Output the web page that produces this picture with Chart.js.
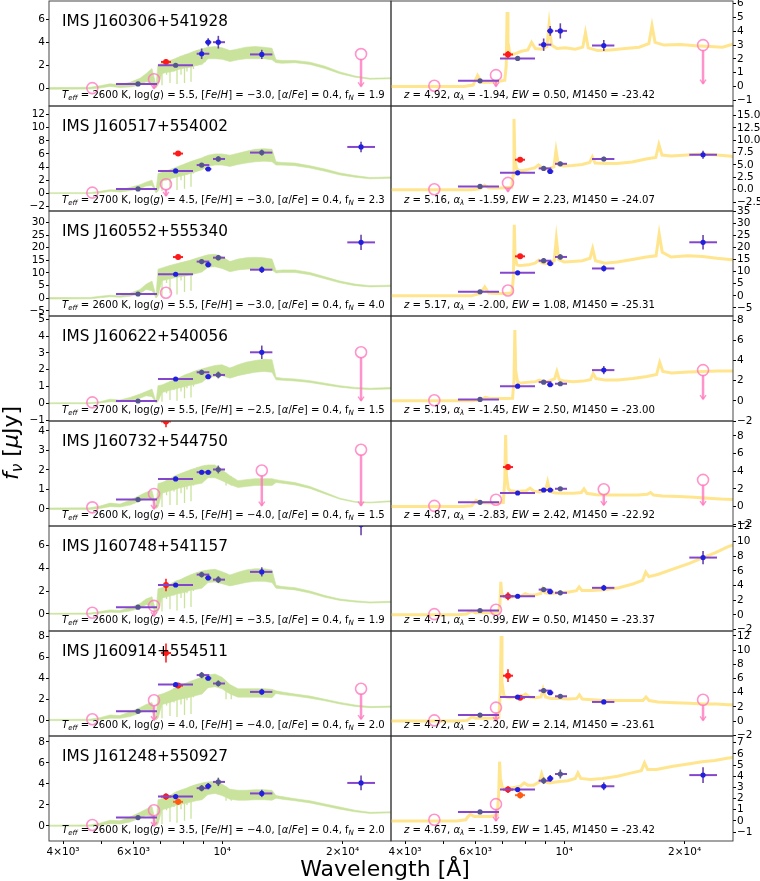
<!DOCTYPE html>
<html>
<head>
<meta charset="utf-8">
<script src="https://cdn.jsdelivr.net/npm/chart.js@4.4.1/dist/chart.umd.min.js"></script>
<style>
  body { margin: 0; background: #fff; }
  #fig { position: relative; width: 760px; height: 881px; overflow: hidden; background: #fff; }
  #fig canvas { position: absolute; }
  .txt { position: absolute; font-family: "DejaVu Sans"; color: #000; white-space: nowrap; line-height: 1; }
  .txt sub { font-size: 70%; vertical-align: -0.25em; line-height: 0; }
</style>
</head>
<body>
<div id="fig"></div>
<script>
// ---- shared x grids ----
const XMIN = 3690, XMAX = 26426;
// brown dwarf model grid (observed Angstrom)
const bdLam = [3690,4672,4949,5242,5553,5882,6230,6450,6676,6832,6911,7072,7236,7405,7621,7844,8073,8309,8601,8903,
  9215,9595,9989,10460,10953,11468,12079,12721,13322,13631,14110,15207,16577,18073,19704,21480,23419,26426];
// narrow absorption features of the model
const spikeLam = [7072,7260,7405,7578,7710,7890,8050,8165,8357,8476,8650,9058,10225,10535];
// quasar template grid (rest frame Angstrom)
const qsoRest = [600,950,1000,1026,1050,1100,1150,1200,1210,1216,1222,1235,1250,1280,1320,1370,1400,1430,1480,1530,
  1549,1570,1620,1700,1800,1880,1909,1940,2050,2200,2400,2600,2750,2800,2850,3000,3300,3600,3900,4200,4500,4700];

// filters: [centre, low edge, high edge]
const fG = 4735, fM675 = 6753;
const fR = [6160, 5426, 6871];
const fM725 = [7236, 7031, 7448];
const fM775 = [7760, 7534, 7980];
const fI = [7650, 6911, 8453];
const fZ = [8885, 8634, 9286];
const fM925 = [9226, 9060, 9396];
const fY = [9780, 9485, 10163];
const fJ = [12560, 11736, 13349];
const fK = [22240, 20549, 24100];

// ---- labels ----
const names = ['IMS J160306+541928','IMS J160517+554002','IMS J160552+555340','IMS J160622+540056',
  'IMS J160732+544750','IMS J160748+541157','IMS J160914+554511','IMS J161248+550927'];
const teff = ['2600','2700','2600','2700','2600','2600','2600','2600'];
const logg = ['5.5','4.5','5.5','5.5','4.5','4.5','4.0','3.5'];
const feh = ['−3.0','−3.0','−3.0','−2.5','−4.0','−3.5','−4.0','−4.0'];
const afe = ['0.4','0.4','0.4','0.4','0.4','0.4','0.4','0.4'];
const fN = ['1.9','2.3','4.0','1.5','1.5','1.9','2.0','2.0'];
const zs = [4.92, 5.16, 5.17, 5.19, 4.87, 4.71, 4.72, 4.67];
const alph = ['-1.94','-1.59','-2.00','-1.45','-2.83','-0.99','-2.20','-1.59'];
const ews = ['0.50','2.23','1.08','2.50','2.42','0.50','2.14','1.45'];
const m1450 = ['-23.42','-24.07','-25.31','-23.00','-22.92','-23.37','-23.61','-23.42'];

// ---- axis limits ----
const yLeft = [[-1.5,7.6],[-2.7,13.3],[-7,34.5],[-1.05,5.2],[-0.87,4.5],[-1.5,7.7],[-1.5,8.5],[-1.43,8.57]];
const stepLeft = [2,2,5,1,1,2,2,2];
const yRight = [[-1.42,6.2],[-4.3,16.9],[-8.3,35],[-2.0,8.4],[-2.2,9.7],[-2.2,12.1],[-2.1,12.7],[-1.8,7.6]];
const stepRight = [1,2.5,5,2,2,2,2,1];

// ---- brown dwarf model envelopes ----
const bdTop1 = [0.1,0.12,0.25,0.42,0.35,0.55,0.9,1.3,1.75,0.3,2.1,2.2,2.35,2.45,2.6,2.8,2.95,3.1,3.3,3.45,3.6,3.65,3.55,3.3,3.45,3.6,3.65,3.6,3.5,2.5,2.45,2.45,2.3,1.95,1.45,1.1,0.9,0.95];
const bdBot1 = [-0.05,-0.03,0.05,0.2,0.1,0.15,0.3,0.6,0.5,0.05,0.3,1.3,1.4,1.45,1.55,1.7,1.8,1.85,2.0,2.1,2.6,2.6,2.55,2.35,2.5,2.6,2.6,2.6,2.5,2.25,2.2,2.25,2.1,1.75,1.3,1.0,0.82,0.86];
const bdTop2 = [0.08,0.1,0.3,0.55,0.5,0.9,1.3,1.7,2.0,0.3,3.0,3.2,3.4,3.6,3.9,4.2,4.5,4.8,5.1,5.4,5.8,6.0,6.0,5.8,6.1,6.4,6.7,6.8,6.7,4.8,4.7,4.6,4.2,3.7,3.1,2.7,2.4,2.5];
const bdBot2 = [-0.05,-0.05,0.05,0.3,0.2,0.4,0.7,1.1,1.2,0.05,0.3,1.9,2.0,2.2,2.4,2.6,2.8,3.0,3.3,3.6,4.1,4.3,4.3,4.1,4.4,4.6,4.8,4.9,4.8,4.3,4.3,4.2,3.85,3.35,2.8,2.45,2.2,2.3];
const bdTop3 = [0.3,0.3,0.8,1.2,1.0,2.0,3.5,5.5,6.8,1.0,11.5,12,12.5,13,13.5,14,14.5,15,15.8,16.5,17.2,17.4,16.5,14.5,15.5,16,16.2,16.0,15.5,11,11.2,11.2,10.2,8.5,6.8,5.6,5.0,5.2];
const bdBot3 = [-0.3,-0.2,0.2,0.6,0.4,0.8,1.8,3.5,3.0,0.1,1.0,7.0,7.3,7.7,8.1,8.5,8.8,9.2,9.8,10.4,12.3,12.5,11.8,10.5,11.2,11.5,11.7,11.5,11.2,10.0,10.2,10.2,9.3,7.7,6.1,5.0,4.5,4.7];
const bdTop4 = [0.03,0.04,0.1,0.25,0.2,0.35,0.55,0.7,0.85,0.1,1.05,1.1,1.2,1.3,1.45,1.55,1.7,1.8,1.95,2.05,2.15,2.25,2.3,2.1,2.3,2.45,2.55,2.62,2.6,1.55,1.5,1.45,1.35,1.2,1.05,0.95,0.9,0.95];
const bdBot4 = [-0.02,-0.02,0.02,0.1,0.08,0.15,0.3,0.45,0.4,0.02,0.1,0.65,0.7,0.78,0.85,0.93,1.0,1.08,1.15,1.25,1.55,1.6,1.65,1.5,1.65,1.75,1.85,1.9,1.85,1.4,1.38,1.33,1.24,1.1,0.96,0.87,0.82,0.86];
const bdTop5 = [0.05,0.06,0.15,0.3,0.25,0.45,0.7,0.85,0.95,0.1,1.3,1.35,1.45,1.55,1.7,1.8,1.9,2.0,2.1,2.2,2.25,2.25,2.0,1.7,1.45,1.5,1.55,1.55,1.55,1.5,1.45,1.35,1.15,0.85,0.55,0.38,0.35,0.42];
const bdBot5 = [-0.02,-0.02,0.03,0.12,0.1,0.2,0.4,0.55,0.5,0.02,0.1,0.8,0.87,0.93,1.0,1.08,1.14,1.2,1.26,1.32,1.6,1.6,1.45,1.25,1.1,1.15,1.2,1.2,1.2,1.35,1.32,1.23,1.05,0.77,0.5,0.34,0.31,0.37];
const bdTop6 = [0.05,0.07,0.2,0.35,0.3,0.55,0.9,1.3,1.5,0.2,2.2,2.3,2.45,2.6,2.85,3.0,3.2,3.4,3.6,3.75,3.85,3.9,3.7,3.4,3.65,3.85,3.95,3.95,3.85,2.5,2.4,2.3,2.0,1.6,1.3,1.15,1.05,1.1];
const bdBot6 = [-0.03,-0.03,0.05,0.15,0.12,0.25,0.5,0.8,0.7,0.03,0.2,1.4,1.47,1.56,1.7,1.8,1.9,2.05,2.15,2.25,2.75,2.8,2.65,2.45,2.6,2.75,2.85,2.85,2.75,2.25,2.2,2.1,1.82,1.45,1.18,1.04,0.95,1.0];
const bdTop7 = [0.08,0.1,0.25,0.5,0.45,0.8,1.2,1.5,1.7,0.2,2.4,2.5,2.65,2.8,3.1,3.3,3.5,3.7,3.9,4.1,4.3,4.4,4.1,3.4,3.0,3.0,3.0,3.0,2.95,2.8,2.7,2.5,2.3,2.0,1.7,1.45,1.3,1.35];
const bdBot7 = [-0.03,-0.03,0.05,0.2,0.18,0.35,0.7,0.95,0.85,0.03,0.2,1.5,1.6,1.7,1.85,2.0,2.1,2.2,2.35,2.5,3.1,3.2,3.0,2.5,2.2,2.2,2.2,2.2,2.15,2.55,2.45,2.3,2.1,1.85,1.55,1.32,1.2,1.25];
const bdTop8 = [0.08,0.1,0.27,0.55,0.5,0.85,1.3,1.6,1.85,0.2,2.5,2.6,2.75,2.9,3.2,3.4,3.55,3.75,3.95,4.1,4.2,4.25,4.0,3.5,3.4,3.4,3.45,3.45,3.4,2.9,2.8,2.6,2.4,2.1,1.8,1.5,1.3,1.35];
const bdBot8 = [-0.03,-0.03,0.05,0.22,0.2,0.38,0.75,1.0,0.9,0.03,0.2,1.55,1.65,1.75,1.95,2.05,2.15,2.25,2.4,2.5,3.0,3.1,2.9,2.55,2.45,2.45,2.5,2.5,2.45,2.65,2.55,2.4,2.2,1.9,1.6,1.35,1.2,1.25];

// depth reached by each narrow absorption feature (on spikeLam)
const spk1 = [0.3,1.2,0.5,1.5,0.4,1.2,0.5,1.5,0.6,1.7,2.0,2.3,2.5,2.6];
const spk2 = [0.3,2.0,0.8,2.6,0.5,2.0,0.7,2.8,1.0,3.0,3.6,4.0,4.5,4.6];
const spk3 = [1,6,2,8,1.5,7,2.5,9,3,10,12,13,13,13];
const spk4 = [0.1,0.6,0.2,0.8,0.15,0.7,0.3,0.9,0.35,1.0,1.2,1.4,1.6,1.6];
const spk5 = [0.1,0.7,0.2,0.9,0.2,0.8,0.3,1.0,0.4,1.2,1.4,1.5,1.2,1.2];
const spk6 = [0.2,1.3,0.4,1.6,0.3,1.4,0.5,1.8,0.6,2.0,2.4,2.7,2.8,2.8];
const spk7 = [0.2,1.4,0.4,1.7,0.3,1.5,0.5,1.9,0.6,2.2,2.6,2.9,2.0,2.0];
const spk8 = [0.2,1.5,0.4,1.8,0.3,1.6,0.5,2.0,0.7,2.4,2.8,3.1,2.4,2.4];

// ---- quasar model fluxes on qsoRest ----
const qso1 = [0,0,0.1,0.8,0.3,0.3,0.35,0.45,1.5,5.4,3.2,2.4,2.3,2.4,2.55,2.65,3.2,2.75,2.7,2.9,4.5,3.0,2.75,2.8,2.7,2.85,3.9,2.8,2.6,2.65,2.75,2.85,3.1,4.4,3.2,3.0,3.05,2.95,2.9,2.85,3.1,3.5];
const qso2 = [0,0,0.2,0.9,0.4,0.35,0.4,0.5,3,14.3,6,4.2,3.9,3.9,4.1,4.4,5.0,4.4,4.2,4.6,7.9,5.0,4.8,4.9,5.1,5.5,6.6,5.4,5.3,5.3,5.6,6.2,6.5,9.1,7.0,6.8,7.0,7.2,7.0,6.8,6.5,6.2];
const qso3 = [0,0,1,3.7,1.2,1,1,1.2,8,29.3,16,12.8,12.5,12.6,12.8,13.5,14.7,13.5,13.3,14.5,23.6,15,14,14.2,14.5,15.5,19.5,14.5,13.5,14,15,16,16.5,25.6,18,16,16.5,16.2,15.5,15,14.5,14];
const qso4 = [0,0,0.1,0.35,0.25,0.22,0.22,0.25,2,7.0,3,1.9,1.75,1.8,1.85,1.9,2.05,1.9,1.95,2.2,2.9,2.1,1.95,1.9,1.95,2.1,2.7,2.2,2.05,2.05,2.2,2.4,2.6,3.8,2.9,2.75,2.85,2.9,2.95,2.95,3.0,3.0];
const qso5 = [0,0,0.1,0.7,0.45,0.42,0.42,0.45,3,8.1,3.5,2.0,1.8,1.75,1.75,1.8,2.1,1.75,1.65,1.8,2.8,1.7,1.55,1.5,1.5,1.6,2.0,1.5,1.35,1.3,1.3,1.3,1.4,1.6,1.3,1.2,1.15,1.05,0.95,0.85,0.8,0.75];
const qso6 = [0,0,0.1,0.5,0.3,0.3,0.3,0.4,1.5,4.5,3.0,2.5,2.4,2.4,2.5,2.6,2.9,2.7,2.7,2.9,3.6,3.0,2.9,3.0,3.1,3.3,3.8,3.3,3.3,3.4,3.7,4.2,4.7,5.8,5.2,5.5,6.3,7.0,7.8,8.5,9.3,9.6];
const qso7 = [0,0,0.1,0.6,0.4,0.4,0.4,0.5,4,12.0,5.5,3.6,3.4,3.3,3.4,3.5,3.8,3.4,3.3,3.4,4.5,3.4,3.2,3.2,3.1,3.2,3.7,3.1,3.0,2.9,2.9,2.9,2.9,3.4,2.9,2.7,2.6,2.5,2.4,2.4,2.3,2.3];
const qso8 = [0,0,0.1,0.6,0.4,0.4,0.4,0.5,2.5,5.3,3.8,3.0,2.9,2.9,3.0,3.1,3.4,3.2,3.2,3.5,4.2,3.5,3.4,3.5,3.6,3.8,4.3,3.8,3.7,3.8,4.0,4.3,4.5,5.2,4.6,4.6,4.9,5.1,5.3,5.4,5.6,5.7];

// ---- photometry: [filter, flux, error, kind] ----
const phot1 = [[fR,0.41,0.08,'g'],[fM725,2.32,0.25,'r'],[fI,2.03,0.1,'g'],[fZ,3.03,0.45,'b'],[fM925,4.03,0.35,'b'],[fY,4.03,0.55,'b'],[fJ,2.97,0.4,'b']];
const phot2 = [[fR,0.66,0.08,'g'],[fM775,6.05,0.35,'r'],[fI,3.4,0.15,'b'],[fZ,4.3,0.3,'g'],[fM925,3.7,0.2,'b'],[fY,5.23,0.4,'g'],[fJ,6.2,0.45,'g'],[fK,7.06,0.8,'b']];
const phot3 = [[fR,1.7,0.3,'g'],[fM775,16.3,1.0,'r'],[fI,9.5,0.5,'b'],[fZ,14.5,1.0,'g'],[fM925,13.3,1.0,'b'],[fY,16.05,1.1,'g'],[fJ,11.3,1.3,'b'],[fK,22.1,3.0,'b']];
const phot4 = [[fR,0.14,0.03,'g'],[fI,1.45,0.05,'b'],[fZ,1.85,0.15,'g'],[fM925,1.59,0.12,'b'],[fY,1.69,0.2,'g'],[fJ,3.04,0.4,'b']];
const phot5 = [[fR,0.48,0.05,'g'],[fM725,4.48,0.3,'r'],[fI,1.54,0.07,'b'],[fZ,1.88,0.12,'b'],[fM925,1.88,0.12,'b'],[fY,2.02,0.2,'g']];
const phot6 = [[fR,0.59,0.05,'g'],[fM725,2.53,0.55,'r'],[fI,2.53,0.1,'b'],[fZ,3.44,0.25,'g'],[fM925,3.15,0.2,'b'],[fY,3.0,0.3,'g'],[fJ,3.68,0.4,'b'],[fK,7.8,0.9,'b']];
const phot7 = [[fR,0.85,0.08,'g'],[fM725,6.4,0.9,'r'],[fM775,3.3,0.25,'r'],[fI,3.4,0.15,'b'],[fZ,4.3,0.3,'g'],[fM925,4.0,0.2,'b'],[fY,3.5,0.3,'g'],[fJ,2.7,0.3,'b']];
const phot8 = [[fR,0.8,0.08,'g'],[fM725,2.8,0.3,'r'],[fM775,2.3,0.3,'o'],[fI,2.8,0.1,'b'],[fZ,3.6,0.3,'g'],[fM925,3.8,0.3,'b'],[fY,4.2,0.4,'g'],[fJ,3.1,0.35,'b'],[fK,4.1,0.7,'b']];

// ---- upper limits: [wavelength, limit, arrow end] ----
const lim1 = [[fG,0.05,-0.1],[fM675,0.82,0.0],[fK[0],3.0,0.2]];
const lim2 = [[fG,0.1,-0.1],[fM725[0],1.37,-0.4]];
const lim3 = [[fM725[0],2.2,-0.5]];
const lim4 = [[fG,0.06,-0.05],[fK[0],3.04,0.16]];
const lim5 = [[fG,0.085,-0.05],[fM675,0.77,0.0],[fJ[0],1.97,0.17],[fK[0],3.03,0.17]];
const lim6 = [[fG,0.1,-0.1],[fM675,0.7,-0.2]];
const lim7 = [[fG,0.1,-0.1],[fM675,1.9,0.0],[fK[0],3.0,0.1]];
const lim8 = [[fG,0.1,-0.1],[fM675,1.5,0.0]];

const bdTop = [bdTop1,bdTop2,bdTop3,bdTop4,bdTop5,bdTop6,bdTop7,bdTop8];
const bdBot = [bdBot1,bdBot2,bdBot3,bdBot4,bdBot5,bdBot6,bdBot7,bdBot8];
const spk = [spk1,spk2,spk3,spk4,spk5,spk6,spk7,spk8];
const qso = [qso1,qso2,qso3,qso4,qso5,qso6,qso7,qso8];
const phot = [phot1,phot2,phot3,phot4,phot5,phot6,phot7,phot8];
const lims = [lim1,lim2,lim3,lim4,lim5,lim6,lim7,lim8];

// ---- styling ----
const GREEN = '#c9e39d', YELLOW = 'rgba(255,226,130,0.9)', PINK = 'rgba(255,120,190,0.8)';
const STYLE = {
  b: {dot:'#2020dd', xbar:'#8446cc', ybar:'#6a45a8', r:2.6},
  g: {dot:'#55558f', xbar:'#8446cc', ybar:'#666677', r:2.6},
  r: {dot:'#ff1a1a', xbar:'#ff2020', ybar:'#ff2020', r:3},
  o: {dot:'#ff5a10', xbar:'#ff6a20', ybar:'#ff6a20', r:3}
};
const ROW_TOP = [1,106,211,316,421,526,631,736], ROW_H = 105;
Chart.defaults.font.family = '"DejaVu Sans"';
Chart.defaults.color = '#000';

function yTicks(lim, step) {
  const out = [];
  for (let k = Math.ceil(lim[0] / step - 1e-9); k * step <= lim[1] + 1e-9; k++) out.push(+(k * step).toFixed(6));
  return out;
}
function fmtY(step) {
  return v => (step % 1 ? v.toFixed(1) : String(v)).replace('-', '−');
}
// value of the upper envelope at a wavelength (straight segment between grid points)
function topAt(r, lam) {
  for (let i = 1; i < bdLam.length; i++) {
    if (lam <= bdLam[i]) {
      const t = (lam - bdLam[i - 1]) / (bdLam[i] - bdLam[i - 1]);
      return bdTop[r][i - 1] + t * (bdTop[r][i] - bdTop[r][i - 1]);
    }
  }
  return bdTop[r][bdTop[r].length - 1];
}
const xLabels = {4000:'4×10³', 6000:'6×10³', 10000:'10⁴', 20000:'2×10⁴'};

const framePlugin = {
  id: 'frame',
  afterDraw(chart) {
    const {ctx, chartArea: a} = chart;
    ctx.save(); ctx.strokeStyle = '#333'; ctx.lineWidth = 0.9;
    ctx.strokeRect(a.left, a.top, a.right - a.left, a.bottom - a.top);
    ctx.restore();
  }
};

function marksPlugin(ph, li) {
  return {
    id: 'marks',
    afterDatasetsDraw(chart) {
      const {ctx, chartArea: a, scales: {x, y}} = chart;
      ctx.save();
      ctx.beginPath(); ctx.rect(a.left, a.top, a.right - a.left, a.bottom - a.top); ctx.clip();
      for (const [lam, f, lo] of li) {
        const px = x.getPixelForValue(lam), py = y.getPixelForValue(f), pb = y.getPixelForValue(lo);
        ctx.strokeStyle = PINK;
        if (pb - py > 7) {
          ctx.lineWidth = 2.5;
          ctx.beginPath(); ctx.moveTo(px, py + 5); ctx.lineTo(px, pb); ctx.stroke();
          ctx.lineWidth = 1.4;
          ctx.beginPath(); ctx.moveTo(px - 3, pb - 4); ctx.lineTo(px, pb); ctx.lineTo(px + 3, pb - 4); ctx.stroke();
        }
        ctx.lineWidth = 1.6;
        ctx.beginPath(); ctx.arc(px, py, 5.5, 0, 2 * Math.PI); ctx.stroke();
      }
      for (const [flt, f, e, k] of ph) {
        const st = STYLE[k];
        const px = x.getPixelForValue(flt[0]), py = y.getPixelForValue(f);
        ctx.strokeStyle = st.xbar; ctx.lineWidth = 2;
        ctx.beginPath(); ctx.moveTo(x.getPixelForValue(flt[1]), py); ctx.lineTo(x.getPixelForValue(flt[2]), py); ctx.stroke();
        ctx.strokeStyle = st.ybar; ctx.lineWidth = 1.6;
        ctx.beginPath(); ctx.moveTo(px, y.getPixelForValue(f - e)); ctx.lineTo(px, y.getPixelForValue(f + e)); ctx.stroke();
        ctx.fillStyle = st.dot;
        ctx.beginPath(); ctx.arc(px, py, st.r, 0, 2 * Math.PI); ctx.fill();
      }
      ctx.restore();
    }
  };
}

const fig = document.getElementById('fig');

function panel(r, side) {
  const last = r === 7;
  const cv = document.createElement('canvas');
  const w = side === 'L' ? 400 : 378;
  const h = 10 + ROW_H + (last ? 20 : 10);
  cv.width = w; cv.height = h;
  cv.style.left = (side === 'L' ? 0 : 382) + 'px';
  cv.style.top = (ROW_TOP[r] - 10) + 'px';
  cv.style.width = w + 'px'; cv.style.height = h + 'px';
  fig.appendChild(cv);

  const lim = side === 'L' ? yLeft[r] : yRight[r];
  const step = side === 'L' ? stepLeft[r] : stepRight[r];
  const yt = yTicks(lim, step);
  let datasets;
  if (side === 'L') {
    const spikes = [];
    spikeLam.forEach((l, i) => {
      spikes.push({x: l, y: topAt(r, l)}, {x: l, y: spk[r][i]}, {x: l, y: null});
    });
    datasets = [
      {data: bdLam.map((l, i) => ({x: l, y: bdTop[r][i]})), showLine: true, pointRadius: 0,
        borderColor: GREEN, borderWidth: 0.6, backgroundColor: GREEN, fill: '+1', clip: 0},
      {data: bdLam.map((l, i) => ({x: l, y: bdBot[r][i]})), showLine: true, pointRadius: 0,
        borderColor: GREEN, borderWidth: 0.6, fill: false, clip: 0},
      {data: spikes, showLine: true, spanGaps: false, pointRadius: 0,
        borderColor: GREEN, borderWidth: 1.3, fill: false, clip: 0}
    ];
  } else {
    datasets = [
      {data: qsoRest.map((l, i) => ({x: l * (1 + zs[r]), y: qso[r][i]})), showLine: true, pointRadius: 0,
        borderColor: YELLOW, borderWidth: 3, fill: false, clip: 0}
    ];
  }
  new Chart(cv, {
    type: 'scatter',
    data: {datasets},
    options: {
      responsive: false, animation: false, devicePixelRatio: 1,
      layout: {padding: {left: side === 'L' ? 0 : 9, right: side === 'L' ? 9 : 0, top: 10, bottom: last ? 0 : 10}},
      plugins: {legend: {display: false}, tooltip: {enabled: false}},
      scales: {
        x: {
          type: 'logarithmic', min: XMIN, max: XMAX, display: last, position: 'bottom',
          afterBuildTicks: s => { s.ticks = [4000,5000,6000,7000,8000,9000,10000,20000].map(v => ({value: v})); },
          afterFit: s => { s.height = last ? 20 : 0; s.paddingLeft = 0; s.paddingRight = 0; },
          ticks: {autoSkip: false, maxRotation: 0, minRotation: 0, padding: 2, font: {size: 10.5},
            callback: v => xLabels[v] || ''},
          grid: {drawOnChartArea: false, tickLength: 3, color: '#000'},
          border: {display: false}
        },
        y: {
          min: lim[0], max: lim[1], position: side === 'L' ? 'left' : 'right',
          afterBuildTicks: s => { s.ticks = yt.map(v => ({value: v})); },
          afterFit: s => { s.width = side === 'L' ? 49 : 27; s.paddingTop = 0; s.paddingBottom = 0; },
          ticks: {autoSkip: false, padding: 1, font: {size: 10.5}, callback: fmtY(step)},
          grid: {drawOnChartArea: false, tickLength: 3, color: '#000'},
          border: {display: false}
        }
      }
    },
    plugins: [marksPlugin(phot[r], lims[r]), framePlugin]
  });
}

function addText(html, left, top, size) {
  const d = document.createElement('div');
  d.className = 'txt';
  d.innerHTML = html;
  d.style.left = left + 'px'; d.style.top = top + 'px'; d.style.fontSize = size + 'px';
  fig.appendChild(d);
  return d;
}
function fitSize(html, target) {
  const d = addText(html, 0, -100, 10);
  const s = 10 * target / d.getBoundingClientRect().width;
  d.remove();
  return s;
}

for (let r = 0; r < 8; r++) { panel(r, 'L'); panel(r, 'R'); }

const leftHtml = r => `<i>T</i><sub><i>eff</i></sub> = ${teff[r]} K, log(<i>g</i>) = ${logg[r]}, [<i>Fe</i>/<i>H</i>] = ${feh[r]}, [<i>α</i>/<i>Fe</i>] = ${afe[r]}, f<sub><i>N</i></sub> = ${fN[r]}`;
const rightHtml = r => `<i>z</i> = ${zs[r].toFixed(2)}, <i>α</i><sub><i>λ</i></sub> = ${alph[r]}, <i>EW</i> = ${ews[r]}, <i>M</i>1450 = ${m1450[r]}`;
const sTitle = fitSize(names[0], 166);
const sLeft = fitSize(leftHtml(0), 323);
const sRight = fitSize(rightHtml(0), 251);

for (let r = 0; r < 8; r++) {
  const t = ROW_TOP[r];
  addText(names[r], 62, t + 26 - 0.85 * sTitle, sTitle);
  addText(leftHtml(r), 62, t + 98 - 0.85 * sLeft, sLeft);
  addText(rightHtml(r), 404, t + 98 - 0.85 * sRight, sRight);
}

const yl = addText('<i>f</i><sub><i>ν</i></sub> [<i>μ</i>Jy]', 0, 0, 22);
yl.style.left = '11px'; yl.style.top = '443px';
yl.style.transform = 'translate(-50%,-50%) rotate(-90deg)';
const xl = addText('Wavelength [Å]', 0, 0, 22);
xl.style.left = '385px'; xl.style.top = '869px';
xl.style.transform = 'translate(-50%,-50%)';
</script>
</body>
</html>
